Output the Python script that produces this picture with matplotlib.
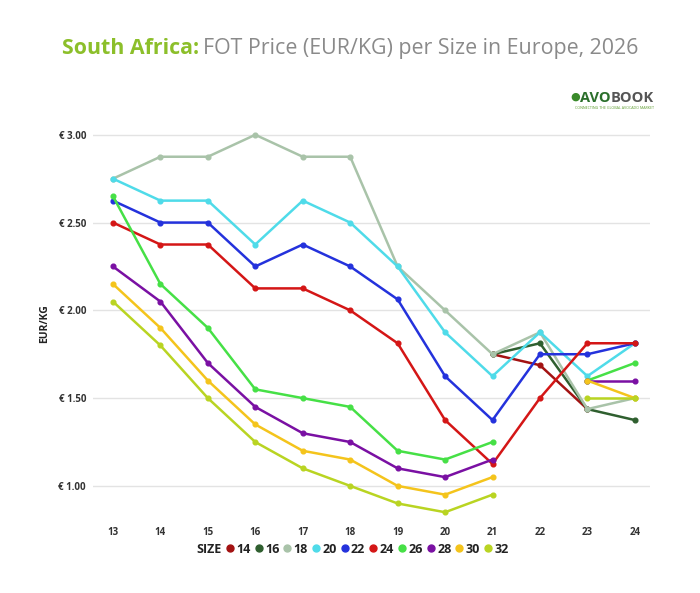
import numpy as np
import matplotlib
matplotlib.use('Agg')
import matplotlib.pyplot as plt
from matplotlib.lines import Line2D

plt.rcParams['font.family'] = ['Open Sans', 'DejaVu Sans']

# tallas (eje x) y precios FOT EUR/KG por calibre
sizes = [13, 14, 15, 16, 17, 18, 19, 20, 21, 22, 23, 24]
nan = np.nan
s14 = [nan, nan, nan, nan, nan, nan, nan, nan, 1.75, 1.6875, 1.4375, nan]
s16 = [nan, nan, nan, nan, nan, nan, nan, nan, 1.75, 1.8125, 1.4375, 1.375]
s18 = [2.75, 2.875, 2.875, 3.00, 2.875, 2.875, 2.25, 2.00, 1.75, 1.875, 1.4375, 1.50]
s20 = [2.75, 2.625, 2.625, 2.375, 2.625, 2.50, 2.25, 1.875, 1.625, 1.875, 1.625, 1.8125]
s22 = [2.625, 2.50, 2.50, 2.25, 2.375, 2.25, 2.0625, 1.625, 1.375, 1.75, 1.75, 1.8125]
s24 = [2.50, 2.375, 2.375, 2.125, 2.125, 2.00, 1.8125, 1.375, 1.125, 1.50, 1.8125, 1.8125]
s26 = [2.65, 2.15, 1.90, 1.55, 1.50, 1.45, 1.20, 1.15, 1.25, nan, 1.60, 1.70]
s28 = [2.25, 2.05, 1.70, 1.45, 1.30, 1.25, 1.10, 1.05, 1.15, nan, 1.60, 1.60]
s30 = [2.15, 1.90, 1.60, 1.35, 1.20, 1.15, 1.00, 0.95, 1.05, nan, 1.60, 1.50]
s32 = [2.05, 1.80, 1.50, 1.25, 1.10, 1.00, 0.90, 0.85, 0.95, nan, 1.50, 1.50]

labels = ['14', '16', '18', '20', '22', '24', '26', '28', '30', '32']
series = [s14, s16, s18, s20, s22, s24, s26, s28, s30, s32]
colors = ['#a31212', '#2f5f2f', '#a9c3a9', '#4fdbe9', '#2432dc', '#d41616',
          '#46e046', '#7a10a3', '#f4c41c', '#b9d422']

fig = plt.figure(figsize=(7, 5.93), dpi=100)
ax = fig.add_axes([0.1329, 0.1214, 0.7957, 0.6661])

x = np.array(sizes)
for lab, ys, c in zip(labels, series, colors):
    ys = np.array(ys, dtype=float)
    m = ~np.isnan(ys)
    # segmentos consecutivos (hueco en 22 para algunas tallas)
    idx = np.where(m)[0]
    groups = np.split(idx, np.where(np.diff(idx) != 1)[0] + 1)
    for g in groups:
        ax.plot(x[g], ys[g], color=c, lw=1.8, marker='o', ms=3.4, clip_on=False)

ax.set_xlim(12.58, 24.32)
ax.set_ylim(0.8, 3.05)
ax.set_xticks(sizes)
ax.set_yticks([1.0, 1.5, 2.0, 2.5, 3.0])
ax.set_yticklabels(['€ %.2f' % v for v in [1.0, 1.5, 2.0, 2.5, 3.0]])
ax.grid(axis='y', color='#e3e3e3', lw=1)
ax.set_axisbelow(True)
for sp in ax.spines.values():
    sp.set_visible(False)
ax.tick_params(length=0, labelsize=7, labelcolor='#333333', pad=5)
for t in ax.get_xticklabels() + ax.get_yticklabels():
    t.set_fontweight('bold')
ax.tick_params(axis='x', pad=4)
ax.set_ylabel('EUR/KG', fontsize=7.5, fontweight='bold', color='#222222', labelpad=6)

# titulo en dos colores
t1 = fig.text(0.088, 0.918, 'South Africa:', fontsize=15.4, fontweight='bold',
              color='#8cbf2a', va='center', ha='left')
fig.canvas.draw()
bb = t1.get_window_extent()
x2 = bb.x1 / fig.bbox.width
fig.text(x2 + 0.006, 0.918, 'FOT Price (EUR/KG) per Size in Europe, 2026', fontsize=15.4,
         color='#8a8a8a', va='center', ha='left')

# logo aproximado
fig.text(0.872, 0.834, 'AVO', fontsize=10.5, fontweight='bold', color='#2b6f2b',
         ha='right', va='center')
fig.text(0.872, 0.834, 'BOOK', fontsize=10.5, fontweight='bold', color='#555555',
         ha='left', va='center')
fig.text(0.878, 0.818, 'CONNECTING THE GLOBAL AVOCADO MARKET', fontsize=2.6,
         color='#5a9a2a', ha='center', va='center')
fig.text(0.822, 0.836, '\u25cf', fontsize=8, color='#3a8a2a', ha='center', va='center')

# leyenda
handles = [Line2D([], [], ls='none', marker='')]
handles += [Line2D([], [], ls='none', marker='o', ms=5, color=c) for c in colors]
leg = fig.legend(handles, ['SIZE'] + labels, loc='center', bbox_to_anchor=(0.497, 0.074),
                 ncol=11, frameon=False, handlelength=0.5, handletextpad=0.25,
                 columnspacing=0.4, prop={'size': 9, 'weight': 'bold'})
for t in leg.get_texts():
    t.set_color('#222222')

plt.savefig('out.png', dpi=100)
